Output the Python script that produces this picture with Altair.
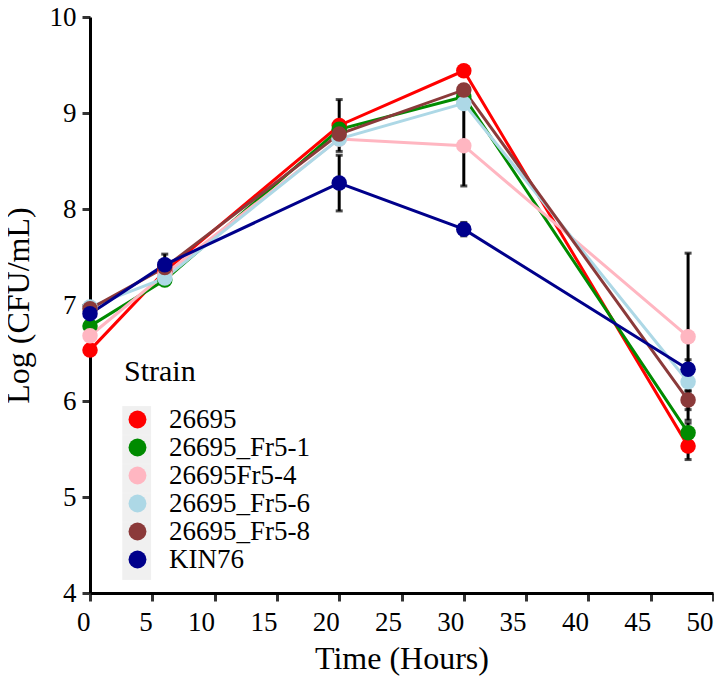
import altair as alt
import pandas as pd

hours = [0, 6, 20, 30, 48]
strains = ["26695", "26695_Fr5-1", "26695Fr5-4", "26695_Fr5-6", "26695_Fr5-8", "KIN76"]
colors = ["#FF0000", "#008B00", "#FFB6C1", "#ADD8E6", "#8B3A3A", "#00008B"]

mean_26695 = [6.53, 7.35, 8.87, 9.44, 5.53]
mean_fr5_1 = [6.78, 7.26, 8.83, 9.17, 5.67]
mean_fr5_4 = [6.68, 7.32, 8.73, 8.66, 6.67]
mean_fr5_6 = [6.98, 7.28, 8.73, 9.10, 6.20]
mean_fr5_8 = [6.96, 7.39, 8.78, 9.24, 6.01]
mean_kin76 = [6.91, 7.42, 8.27, 7.79, 6.33]

sd_26695 = [0.05, 0.05, 0.27, 0.05, 0.14]
sd_fr5_1 = [0.05, 0.04, 0.05, 0.05, 0.10]
sd_fr5_4 = [0.05, 0.05, 0.05, 0.42, 0.87]
sd_fr5_6 = [0.04, 0.05, 0.05, 0.05, 0.10]
sd_fr5_8 = [0.04, 0.05, 0.05, 0.05, 0.10]
sd_kin76 = [0.04, 0.11, 0.29, 0.07, 0.10]

means = [mean_26695, mean_fr5_1, mean_fr5_4, mean_fr5_6, mean_fr5_8, mean_kin76]
sds = [sd_26695, sd_fr5_1, sd_fr5_4, sd_fr5_6, sd_fr5_8, sd_kin76]

rows = []
for i, s in enumerate(strains):
    for t, m, sd in zip(hours, means[i], sds[i]):
        rows.append({"Strain": s, "Key": s, "order": i, "Time": t, "Log": m,
                     "lo": m - sd, "hi": m + sd})
df = pd.DataFrame(rows)

FONT = "Liberation Serif"
KEY_BG = "#F0F0F0"

LX, LY = 34, 340

x = alt.X("Time:Q", scale=alt.Scale(domain=[0, 50], nice=False, zero=False),
          axis=alt.Axis(title="Time (Hours)", values=list(range(0, 51, 5)), format="d",
                        labelAlign="right", labelPadding=8, titlePadding=8))
y = alt.Y("Log:Q", scale=alt.Scale(domain=[4, 10], nice=False, zero=False),
          axis=alt.Axis(title="Log (CFU/mL)", values=list(range(4, 11)), format="d",
                        labelPadding=6, titlePadding=14))
color = alt.Color("Strain:N", scale=alt.Scale(domain=strains, range=colors),
                  legend=alt.Legend(title="Strain", orient="none",
                                    legendX=LX, legendY=LY, zindex=2,
                                    symbolType="circle", symbolSize=320,
                                    symbolStrokeWidth=0, symbolOpacity=1,
                                    labelOffset=18, rowPadding=0,
                                    titlePadding=19, padding=0))
key_shape = alt.Shape("Key:N", scale=alt.Scale(range=["square"]),
                      legend=alt.Legend(title=" ", orient="none",
                                        legendX=LX - 1.8, legendY=LY, zindex=1,
                                        symbolSize=830, symbolFillColor=KEY_BG,
                                        symbolStrokeWidth=0, symbolOpacity=1,
                                        labelExpr="''", titleOpacity=0,
                                        labelOffset=18, rowPadding=0,
                                        titlePadding=19, padding=0))

base = alt.Chart(df)

keys = base.mark_point(filled=True, color=KEY_BG, opacity=0, size=830).encode(
    x=x, y=y, shape=key_shape)
err = base.mark_rule(color="black", strokeWidth=3).encode(
    x="Time:Q", y="lo:Q", y2="hi:Q")
cap_lo = base.mark_tick(color="black", orient="horizontal", size=7, thickness=3).encode(
    x="Time:Q", y="lo:Q")
cap_hi = base.mark_tick(color="black", orient="horizontal", size=7, thickness=3).encode(
    x="Time:Q", y="hi:Q")

lines = base.mark_line(strokeWidth=3).encode(
    x=x, y=y, color=color, order="Time:Q", detail="Strain:N")
points = base.mark_point(filled=True, size=240, opacity=1).encode(
    x=x, y=y, color=color, order="order:Q")

chart = alt.layer(keys, lines, err, cap_lo, cap_hi, points).properties(
    width=623, height=576,
    padding={"left": 82, "top": 9, "right": 1, "bottom": 84},
    autosize=alt.AutoSizeParams(type="none"),
).configure(font=FONT).configure_view(stroke=None).configure_axis(
    grid=False, domainColor="black", domainWidth=3,
    tickColor="#333333", tickWidth=3, tickSize=8,
    labelFont=FONT, labelFontSize=27, labelColor="black",
    titleFont=FONT, titleFontSize=32, titleColor="black", titleFontWeight="normal",
).configure_legend(
    labelFont=FONT, labelFontSize=27, labelColor="black",
    titleFont=FONT, titleFontSize=30, titleColor="black", titleFontWeight="normal",
)

chart.save("out.html", embed_options={"renderer": "svg", "actions": False})
